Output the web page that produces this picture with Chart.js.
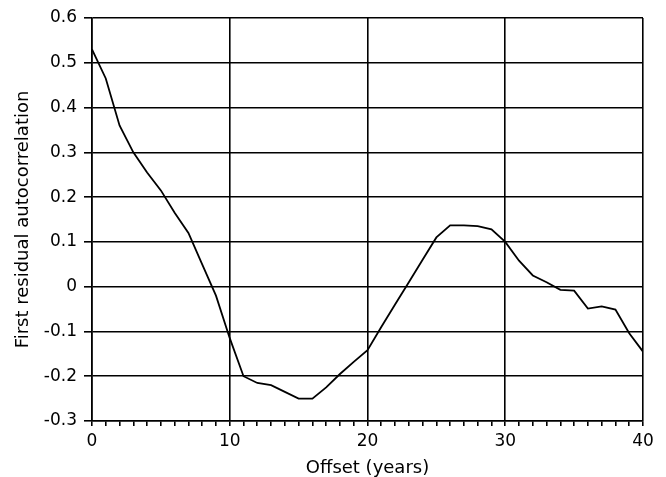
<!DOCTYPE html>
<html>
<head>
<meta charset="utf-8">
<script src="https://cdn.jsdelivr.net/npm/chart.js@4/dist/chart.umd.min.js"></script>
<style>
    body { margin: 0; background: #fff; }
    canvas { display: block; }
</style>
</head>
<body>
<canvas id="acfChart" width="666" height="477"></canvas>
<script>
// offset in years and the first residual autocorrelation
const offsets = [0, 1, 2, 3, 4, 5, 6, 7, 8, 9, 10, 11, 12, 13, 14, 15, 16, 17, 18, 19, 20,
    21, 22, 23, 24, 25, 26, 27, 28, 29, 30, 31, 32, 33, 34, 35, 36, 37, 38, 39, 40];
const autocorr = [0.53, 0.465, 0.36, 0.30, 0.255, 0.215, 0.165, 0.12, 0.05, -0.02, -0.115,
    -0.20, -0.215, -0.22, -0.235, -0.25, -0.25, -0.225, -0.195, -0.168, -0.142,
    -0.09, -0.04, 0.01, 0.06, 0.11, 0.137, 0.137, 0.135, 0.128, 0.10,
    0.058, 0.025, 0.01, -0.007, -0.009, -0.049, -0.044, -0.051, -0.104, -0.145];
const xTickLabels = ['0', '10', '20', '30', '40'];
const yTickLabels = ['-0.3', '-0.2', '-0.1', '0', '0.1', '0.2', '0.3', '0.4', '0.5', '0.6'];

Chart.defaults.font.family = '"DejaVu Sans", sans-serif';
Chart.defaults.color = '#000';

const points = offsets.map((x, i) => ({ x: x, y: autocorr[i] }));

const ctx = document.getElementById('acfChart').getContext('2d');
new Chart(ctx, {
    type: 'line',
    data: {
        datasets: [{
            data: points,
            borderColor: '#000',
            borderWidth: 1.8,
            pointRadius: 0,
            tension: 0,
            fill: false
        }]
    },
    options: {
        responsive: false,
        animation: false,
        layout: { padding: { top: 18, right: 23, left: 0, bottom: 0 } },
        plugins: {
            legend: { display: false },
            tooltip: { enabled: false }
        },
        scales: {
            x: {
                type: 'linear',
                min: 0,
                max: 40,
                afterFit: (scale) => { scale.height = 56; },
                ticks: {
                    stepSize: 1,
                    autoSkip: false,
                    maxRotation: 0,
                    padding: 5,
                    font: { size: 17 },
                    callback: function(value) {
                        return value % 10 === 0 ? xTickLabels[value / 10] : '';
                    }
                },
                grid: {
                    color: (c) => (c.tick && c.tick.value % 10 === 0) ? '#000' : 'rgba(0,0,0,0)',
                    tickColor: '#000',
                    lineWidth: 1.6,
                    tickLength: 5
                },
                border: { color: '#000', width: 1.6 },
                title: {
                    display: true,
                    text: 'Offset (years)',
                    font: { size: 18 },
                    padding: { top: 0, bottom: -2 }
                }
            },
            y: {
                min: -0.3,
                max: 0.6,
                afterFit: (scale) => { scale.width = 92; },
                ticks: {
                    stepSize: 0.1,
                    padding: 7,
                    font: { size: 17 },
                    callback: function(value, index) {
                        return yTickLabels[index];
                    }
                },
                grid: {
                    color: '#000',
                    lineWidth: 1.6,
                    tickLength: 8
                },
                border: { color: '#000', width: 1.6 },
                title: {
                    display: true,
                    text: 'First residual autocorrelation',
                    font: { size: 18 },
                    padding: { top: 13, bottom: 0 }
                }
            }
        }
    }
});
</script>
</body>
</html>
